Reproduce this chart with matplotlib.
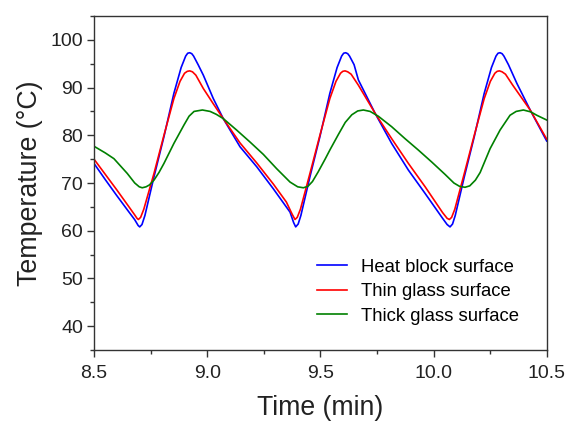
import matplotlib
matplotlib.use("Agg")
import matplotlib.pyplot as plt
from matplotlib.ticker import MultipleLocator

plt.rcParams['font.family'] = ['Liberation Sans', 'DejaVu Sans']

# Heat block surface
blue_t = [8.500, 8.550, 8.600, 8.650, 8.680, 8.695, 8.702, 8.712, 8.725, 8.765, 8.809, 8.853, 8.885, 8.905, 8.914, 8.923,
          8.932, 8.940, 8.960, 8.983, 9.027, 9.071, 9.145, 9.219, 9.292, 9.366, 9.382, 9.391,
          9.402, 9.414, 9.454, 9.498, 9.542, 9.574, 9.594, 9.603, 9.612,
          9.621, 9.629, 9.649, 9.668, 9.742, 9.815, 9.889, 9.963, 10.040, 10.060, 10.073,
          10.084, 10.096, 10.136, 10.180, 10.224, 10.256, 10.276, 10.285, 10.294,
          10.303, 10.311, 10.331, 10.368, 10.427, 10.500]
blue_v = [74.1, 70.7, 67.4, 64.2, 62.3, 61.1, 60.8, 61.3, 63.2, 71.3, 79.7, 88.8, 94.2, 96.6, 97.2, 97.3,
          97.1, 96.6, 94.8, 92.6, 87.7, 83.5, 77.6, 73.4, 68.8, 63.9, 61.7, 60.8,
          61.4, 63.2, 71.3, 79.7, 88.8, 94.2, 96.6, 97.2, 97.3,
          97.1, 96.6, 94.8, 91.6, 84.6, 78.3, 72.7, 67.8, 62.6, 61.3, 60.8,
          61.4, 63.2, 71.3, 79.7, 88.8, 94.2, 96.6, 97.2, 97.3,
          97.1, 96.6, 94.8, 90.9, 85.3, 78.8]

# Thin glass surface
red_t = [8.500, 8.550, 8.600, 8.650, 8.680, 8.690, 8.696, 8.706, 8.720, 8.765, 8.809, 8.853, 8.880, 8.900, 8.912, 8.923,
         8.935, 8.950, 8.983, 9.027, 9.071, 9.145, 9.219, 9.292, 9.350, 9.375, 9.388,
         9.398, 9.412, 9.454, 9.498, 9.542, 9.569, 9.589, 9.599, 9.609,
         9.621, 9.636, 9.668, 9.742, 9.815, 9.889, 9.963, 10.040, 10.060, 10.070,
         10.080, 10.094, 10.136, 10.180, 10.224, 10.251, 10.271, 10.281, 10.291,
         10.303, 10.318, 10.350, 10.427, 10.500]
red_v = [75.0, 71.8, 68.6, 65.3, 63.3, 62.6, 62.35, 62.8, 64.5, 72.0, 80.0, 87.7, 91.3, 93.0, 93.4, 93.5,
         93.3, 92.6, 89.8, 86.6, 83.5, 78.4, 74.2, 69.8, 66.0, 63.5, 62.35,
         62.8, 64.5, 72.0, 80.0, 87.7, 91.3, 93.0, 93.4, 93.5,
         93.3, 92.8, 90.5, 84.6, 79.3, 74.1, 69.2, 63.8, 62.6, 62.35,
         62.8, 64.5, 72.0, 80.0, 87.7, 91.3, 93.0, 93.4, 93.5,
         93.3, 92.8, 90.5, 85.3, 79.2]

# Thick glass surface
green_t = [8.500, 8.550, 8.588, 8.647, 8.680, 8.700, 8.713, 8.730, 8.745, 8.765, 8.787, 8.809, 8.853, 8.898,
           8.920, 8.942, 8.979, 9.013, 9.040, 9.071, 9.130, 9.189, 9.248, 9.307, 9.366, 9.400, 9.425,
           9.445, 9.465, 9.490, 9.521, 9.543, 9.580, 9.610, 9.639, 9.665, 9.690, 9.720, 9.756, 9.815,
           9.874, 9.933, 9.992, 10.051, 10.090, 10.115, 10.139, 10.160, 10.185, 10.206, 10.250, 10.294,
           10.338, 10.365, 10.397, 10.430, 10.456, 10.500]
green_v = [77.7, 76.3, 75.1, 72.0, 70.0, 69.2, 69.0, 69.2, 69.6, 70.6, 72.2, 74.1, 78.3, 82.2,
           84.0, 85.0, 85.3, 85.0, 84.4, 83.5, 81.1, 78.6, 76.0, 73.0, 70.2, 69.2, 69.0,
           69.3, 70.3, 72.3, 75.0, 77.0, 80.2, 82.7, 84.3, 85.1, 85.3, 85.0, 84.0, 81.8,
           79.3, 76.9, 74.4, 71.8, 70.0, 69.3, 69.1, 69.4, 70.6, 72.2, 77.2, 81.1,
           84.2, 85.0, 85.3, 84.9, 84.2, 83.2]

labels = ["Heat block surface", "Thin glass surface", "Thick glass surface"]
x_ticks = [8.5, 9.0, 9.5, 10.0, 10.5]
y_ticks = [40, 50, 60, 70, 80, 90, 100]

fig = plt.figure(figsize=(5.67, 4.23), dpi=100)
ax = fig.add_axes([94/567, 1-350/423, (546.7-94)/567, (350-16)/423])

kw = dict(lw=1.2, solid_joinstyle='round')
ax.plot(blue_t, blue_v, color='#0000ff', label=labels[0], **kw)
ax.plot(red_t, red_v, color='#ff0000', label=labels[1], **kw)
ax.plot(green_t, green_v, color='#008000', label=labels[2], **kw)

ax.set_xlim(8.5, 10.5)
ax.set_ylim(35, 105)
ax.set_xticks(x_ticks)
ax.set_xticklabels([f"{v:.1f}" for v in x_ticks])
ax.set_yticks(y_ticks)
ax.xaxis.set_minor_locator(MultipleLocator(0.25))
ax.yaxis.set_minor_locator(MultipleLocator(5))

for s in ax.spines.values():
    s.set_linewidth(1.0)
    s.set_color('#333333')
ax.tick_params(which='major', direction='out', length=5, width=1.0, color='#333333', labelsize=14, labelcolor='#222222')
ax.tick_params(which='minor', direction='out', length=3, width=1.0, color='#333333')
ax.tick_params(axis='x', which='major', pad=6)
ax.tick_params(axis='y', which='major', pad=3)
ax.tick_params(top=False, right=False, which='both')

ax.set_xlabel("Time (min)", fontsize=19.2, color='#222222', labelpad=9)
ax.set_ylabel("Temperature (°C)", fontsize=19.3, color='#222222', labelpad=5)

ax.legend(loc='upper left', bbox_to_anchor=(0.492, 0.273), frameon=False, fontsize=13.3,
          handlelength=1.62, handletextpad=0.8, labelspacing=0.40, borderpad=0, borderaxespad=0)

fig.savefig("out.png", dpi=100)
